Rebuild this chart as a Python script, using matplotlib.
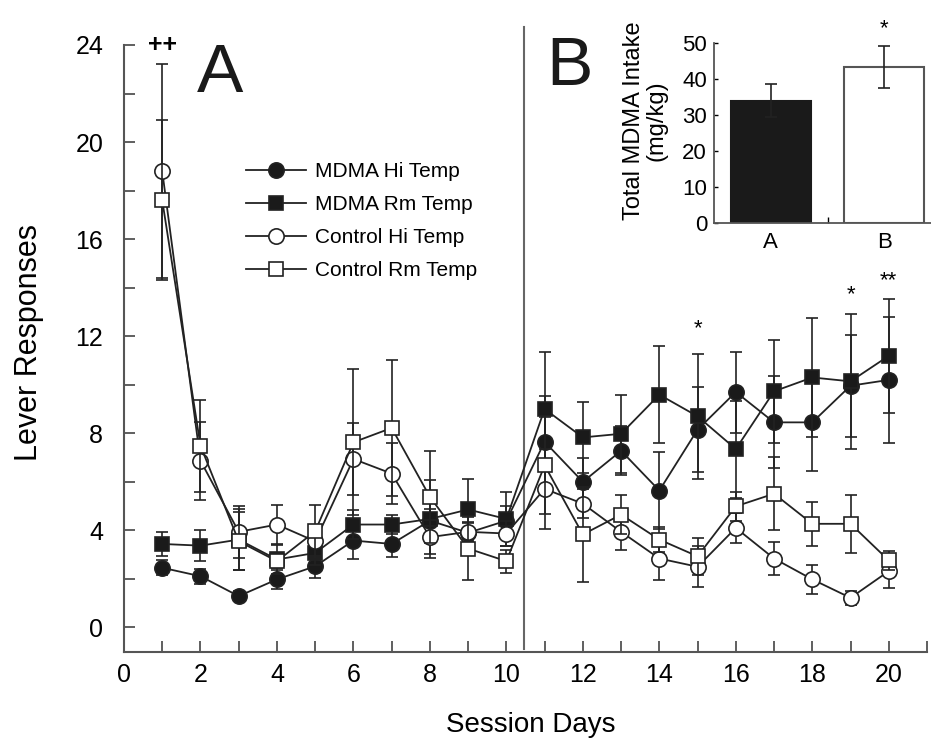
import numpy as np
import matplotlib
matplotlib.use("Agg")
import matplotlib.pyplot as plt
from matplotlib.ticker import MultipleLocator

plt.rcParams["font.family"] = ["Liberation Sans", "DejaVu Sans"]

# ======================================
# data
# ======================================
days = list(range(1, 21))

mdma_hi = [2.46, 2.11, 1.29, 1.98, 2.52, 3.58, 3.44, 4.40, 3.90, 4.40,
           7.65, 6.00, 7.28, 5.64, 8.15, 9.70, 8.45, 8.45, 9.96, 10.20]
mdma_hi_err = [0.3, 0.3, 0.2, 0.38, 0.5, 0.78, 0.54, 0.5, 0.4, 0.6,
               1.87, 1.0, 1.0, 1.6, 1.74, 1.67, 1.9, 2.0, 2.1, 2.6]

mdma_rm = [3.44, 3.37, 3.62, 2.80, 3.07, 4.24, 4.24, 4.47, 4.86, 4.47,
           9.00, 7.83, 7.98, 9.59, 8.70, 7.35, 9.73, 10.30, 10.14, 11.19]
mdma_rm_err = [0.5, 0.65, 1.24, 0.6, 0.5, 0.6, 0.4, 1.6, 1.26, 1.1,
               2.37, 1.46, 1.6, 2.0, 2.58, 2.0, 2.12, 2.44, 2.77, 2.34]

ctrl_hi = [18.80, 6.87, 3.94, 4.24, 3.55, 6.94, 6.34, 3.72, 3.94, 3.87,
           5.71, 5.10, 3.94, 2.84, 2.50, 4.10, 2.84, 1.98, 1.22, 2.32]
ctrl_hi_err = [4.4, 1.6, 1.06, 0.82, 0.6, 1.5, 1.26, 0.7, 0.4, 0.5,
               1.65, 0.6, 0.76, 0.9, 0.84, 0.62, 0.7, 0.6, 0.3, 0.7]

ctrl_rm = [17.60, 7.49, 3.55, 2.73, 3.96, 7.63, 8.22, 5.38, 3.25, 2.73,
           6.68, 3.83, 4.65, 3.62, 2.93, 4.99, 5.51, 4.27, 4.27, 2.76]
ctrl_rm_err = [3.3, 1.9, 1.2, 0.3, 1.1, 3.0, 2.8, 1.9, 1.3, 0.48,
               2.0, 1.96, 0.8, 0.5, 0.76, 0.6, 1.5, 0.9, 1.2, 0.4]

# inset: total intake per phase
phases = ["A", "B"]
intake = [34.1, 43.5]
intake_err = [4.5, 5.8]

# significance marks (x, y, text)
marks = [(1, 24.0, "++"), (15, 12.3, "*"), (19, 13.7, "*"), (20, 14.3, "**")]

# ======================================
# main plot
# ======================================
fig = plt.figure(figsize=(9.31, 7.44), dpi=100)
ax = fig.add_axes([124 / 931, 1 - 651.7 / 744, 803 / 931, (651.7 - 45) / 744])

series = [
    ("MDMA Hi Temp", mdma_hi, mdma_hi_err, "o", "#1a1a1a"),
    ("MDMA Rm Temp", mdma_rm, mdma_rm_err, "s", "#1a1a1a"),
    ("Control Hi Temp", ctrl_hi, ctrl_hi_err, "o", "white"),
    ("Control Rm Temp", ctrl_rm, ctrl_rm_err, "s", "white"),
]

handles = []
for i, (name, vals, err, mk, fc) in enumerate(series):
    ax.errorbar(days, vals, yerr=err, fmt="none", ecolor="#222222",
                elinewidth=1.2, capsize=4, capthick=1.2, zorder=2 + i)
    h, = ax.plot(days, vals, color="#222222", lw=1.3, marker=mk,
                 markersize=11 if mk == "o" else 10.5, markerfacecolor=fc,
                 markeredgecolor="#222222", markeredgewidth=1.2,
                 label=name, zorder=2 + i)
    handles.append(h)

# phase divider
ax.plot([10.45, 10.45], [-0.9, 24.75], color="#666666", lw=1.5,
        clip_on=False, zorder=1)

for x, y, t in marks:
    ax.text(x, y, t, ha="center", va="center",
            fontsize=18 if t == "++" else 16,
            fontweight="bold" if t == "++" else "normal")

ax.text(2.5, 22.8, "A", fontsize=50, ha="center", va="center", color="#1a1a1a")
ax.text(11.65, 23.1, "B", fontsize=50, ha="center", va="center", color="#1a1a1a")

ax.set_xlim(0, 21)
ax.set_ylim(-1, 24)
ax.xaxis.set_major_locator(MultipleLocator(2))
ax.xaxis.set_minor_locator(MultipleLocator(1))
ax.set_yticks(np.arange(0, 25, 4))
ax.yaxis.set_minor_locator(MultipleLocator(2))
ax.tick_params(which="both", direction="in", length=8, width=1.2,
               color="#444444", labelsize=18)
ax.tick_params(axis="y", which="both", pad=15)
ax.tick_params(axis="x", which="both", pad=8)

for s in ["top", "right"]:
    ax.spines[s].set_visible(False)
for s in ["left", "bottom"]:
    ax.spines[s].set_color("#555555")
    ax.spines[s].set_linewidth(1.5)

ax.set_xlabel("Session Days", fontsize=20)
ax.set_ylabel("Lever Responses", fontsize=22)
ax.xaxis.set_label_coords(0.507, -0.099)
ax.yaxis.set_label_coords(-0.10, 0.51)

fig.legend(handles=handles, loc="upper left",
           bbox_to_anchor=(246 / 931, 1 - 162 / 744), frameon=False,
           fontsize=15, handlelength=2.9, handletextpad=0.4,
           labelspacing=0.68, borderpad=0, borderaxespad=0)

# ======================================
# inset: total intake
# ======================================
ins = fig.add_axes([714 / 931, 1 - 223.3 / 744, 217 / 931, 180 / 744])
ins.bar([0, 1], intake, width=0.705, color=["#1a1a1a", "white"],
        edgecolor=["#1a1a1a", "#555555"], linewidth=1.5, zorder=2)
ins.errorbar([0, 1], intake, yerr=intake_err, fmt="none", ecolor="#222222",
             elinewidth=1.2, capsize=4, capthick=1.2, zorder=3)
ins.text(1, 54, "*", ha="center", va="center", fontsize=16, clip_on=False)
ins.set_xlim(-0.5, 1.41)
ins.set_ylim(0, 50)
ins.set_yticks(np.arange(0, 51, 10))
ins.set_xticks([0, 1])
ins.set_xticklabels(phases)
ins.set_xticks([0.5], minor=True)
ins.tick_params(axis="x", which="major", length=0, labelsize=16, pad=6)
ins.tick_params(axis="x", which="minor", direction="in", length=4, width=1)
ins.tick_params(axis="y", direction="in", length=3, width=1, labelsize=16, pad=5)
for s in ["top", "right"]:
    ins.spines[s].set_visible(False)
for s in ["left", "bottom"]:
    ins.spines[s].set_color("#555555")
    ins.spines[s].set_linewidth(1.3)
ins.set_ylabel("Total MDMA Intake\n(mg/kg)", fontsize=17, linespacing=1.0)
ins.yaxis.set_label_coords(-0.215, 0.57)

fig.savefig("out.png", dpi=100)
